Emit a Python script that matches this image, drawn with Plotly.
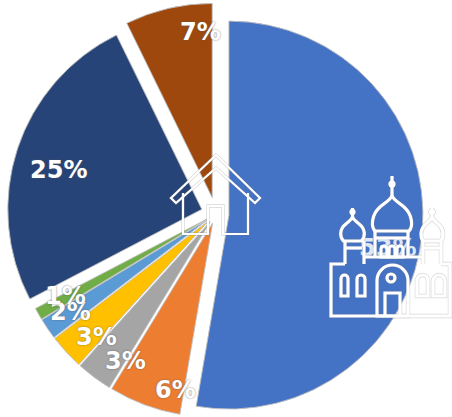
import plotly.graph_objects as go

categories = ["A", "B", "C", "D", "E", "F", "G", "H"]
values = [52.7, 6.0, 3, 2.9, 1.75, 1.0, 25.4, 7.25]
labels = ["53%", "6%", "3%", "3%", "2%", "1%", "25%", "7%"]
colors = ["#4472C4", "#ED7D31", "#A5A5A5", "#FFC000", "#5B9BD5", "#70AD47", "#264478", "#9E480E"]
pulls = [0.067, 0.05, 0.05, 0.05, 0.05, 0.05, 0.077, 0.0876]
label_x = [None, 176, 125, 97, 70, 65, 59, 201]
label_y = [None, 390, 361, 337, 312, 296, 170, 32]

W, H = 452, 426
CX, CY, RO = 216, 214, 211


def px(x):
    return round(x / W, 5)


def py(y):
    return round(1 - y / H, 5)


def poly(pts, close=False):
    s = "M" + " L".join(f"{px(a)},{py(b)}" for a, b in pts)
    return s + (" Z" if close else "")


def curve(start, *segs):
    s = f"M{px(start[0])},{py(start[1])}"
    for seg in segs:
        s += " C" + " ".join(f"{px(a)},{py(b)}" for a, b in seg)
    return s


def onion(cx, top, widest_y, half, bottom_y, bottom_half):
    return curve(
        (cx - bottom_half, bottom_y),
        [(cx - half - 1, bottom_y - 4), (cx - half - 1, widest_y - 3), (cx - half * 0.6, widest_y - (widest_y - top) * 0.5)],
        [(cx - half * 0.3, widest_y - (widest_y - top) * 0.72), (cx - 1, top + 3), (cx, top)],
        [(cx + 1, top + 3), (cx + half * 0.3, widest_y - (widest_y - top) * 0.72), (cx + half * 0.6, widest_y - (widest_y - top) * 0.5)],
        [(cx + half + 1, widest_y - 3), (cx + half + 1, bottom_y - 4), (cx + bottom_half, bottom_y)],
    ) + " Z"


def arch(x0, x1, top, bottom):
    cx = (x0 + x1) / 2
    k = (x1 - x0) / 2
    return curve(
        (x0, bottom),
        [(x0, bottom), (x0, top + k), (x0, top + k)],
        [(x0, top + k * 0.45), (cx - k * 0.55, top), (cx, top)],
        [(cx + k * 0.55, top), (x1, top + k * 0.45), (x1, top + k)],
        [(x1, top + k), (x1, bottom), (x1, bottom)],
    ) + " Z"


def circle(cx, cy, r):
    k = r * 0.5523
    return curve(
        (cx - r, cy),
        [(cx - r, cy - k), (cx - k, cy - r), (cx, cy - r)],
        [(cx + k, cy - r), (cx + r, cy - k), (cx + r, cy)],
        [(cx + r, cy + k), (cx + k, cy + r), (cx, cy + r)],
        [(cx - k, cy + r), (cx - r, cy + k), (cx - r, cy)],
    ) + " Z"


house = [
    poly([(216, 155), (171, 198), (176, 203), (216, 168), (255, 203), (260, 198)], True),
    poly([(183, 193), (183, 234), (208, 234), (208, 206), (223, 206), (223, 234), (248, 234), (248, 193)]),
]

church = [
    poly([(345, 264), (331, 264), (331, 316), (450, 316), (450, 264), (441, 264)]),
    poly([(364, 257), (423, 257)]),
    onion(352.5, 217, 232, 12, 241, 9),
    poly([(345, 241), (345, 264)]), poly([(364, 241), (364, 264)]),
    poly([(345, 248), (362, 248)]),
    poly([(352.5, 217), (352.5, 208)]),
    circle(352.5, 212, 1.5),
    onion(392, 196, 218, 20, 231, 17),
    poly([(392, 196), (392, 176)]),
    circle(392, 184, 2),
    poly([(375, 231), (375, 257)]), poly([(408, 231), (408, 257)]),
    poly([(376, 238), (408, 238)]),
    arch(381, 387, 246, 257), arch(389, 395, 246, 257), arch(397, 403, 246, 257),
    onion(432, 217, 232, 11, 241, 9),
    poly([(423, 241), (423, 264)]), poly([(441, 241), (441, 264)]),
    poly([(424, 248), (441, 248)]),
    poly([(432, 217), (432, 208)]),
    circle(432, 212, 1.5),
    arch(341, 348, 275, 296), arch(357, 365, 275, 296),
    arch(417, 428, 275, 296), arch(433, 445, 275, 296),
    arch(377, 408, 265, 316),
    poly([(385, 316), (385, 293), (400, 293), (400, 316)]),
    circle(391, 278, 4),
]

shapes = []
for group, wid in ((house, 2.2), (church, 3.2)):
    for d in group:
        shapes.append(dict(type="path", xref="paper", yref="paper", path=d, layer="above",
                           line=dict(color="rgba(120,120,120,0.3)", width=wid + 1.2)))
for group, wid in ((house, 2.2), (church, 3.2)):
    for d in group:
        shapes.append(dict(type="path", xref="paper", yref="paper", path=d, layer="above",
                           line=dict(color="white", width=wid)))

font = dict(family="DejaVu Sans, Open Sans, sans-serif", size=24, color="white",
            weight="bold", shadow="0 0 2px rgba(90,90,90,0.8)")

annotations = []
for t, x, y in zip(labels, label_x, label_y):
    if x is None:
        continue
    annotations.append(dict(text=t, x=px(x), y=py(y), xref="paper", yref="paper",
                            showarrow=False, font=font, xanchor="center", yanchor="middle"))

domain = dict(x=[(CX - RO) / W, (CX + RO) / W], y=[1 - (CY + RO) / H, 1 - (CY - RO) / H])

fig = go.Figure()
fig.add_trace(go.Pie(
    labels=categories,
    values=values,
    sort=False,
    direction="clockwise",
    rotation=0,
    pull=pulls,
    marker=dict(colors=colors, line=dict(color="rgba(190,190,190,0.9)", width=1)),
    textinfo="none",
    hoverinfo="skip",
    showlegend=False,
    domain=domain,
))
# transparent ring that only carries the largest slice's label, so it sits under the icon
fig.add_trace(go.Pie(
    labels=[categories[0], "rest"],
    values=[values[0], sum(values[1:])],
    sort=False,
    direction="clockwise",
    rotation=6.3,
    hole=0.66,
    marker=dict(colors=["rgba(0,0,0,0)", "rgba(0,0,0,0)"], line=dict(width=0)),
    text=[labels[0], ""],
    textinfo="text",
    textposition="inside",
    insidetextorientation="horizontal",
    insidetextfont=dict(family="DejaVu Sans", size=24, color="#dfe8f7", weight="bold"),
    hoverinfo="skip",
    showlegend=False,
    domain=domain,
))
fig.update_layout(
    width=W, height=H,
    margin=dict(l=0, r=0, t=0, b=0),
    paper_bgcolor="white",
    plot_bgcolor="white",
    shapes=shapes,
    annotations=annotations,
)
fig.write_html("out.html", config=dict(displayModeBar=False),
               post_script="document.body.style.margin='0';document.documentElement.style.overflow='hidden';document.body.style.overflow='hidden';")
